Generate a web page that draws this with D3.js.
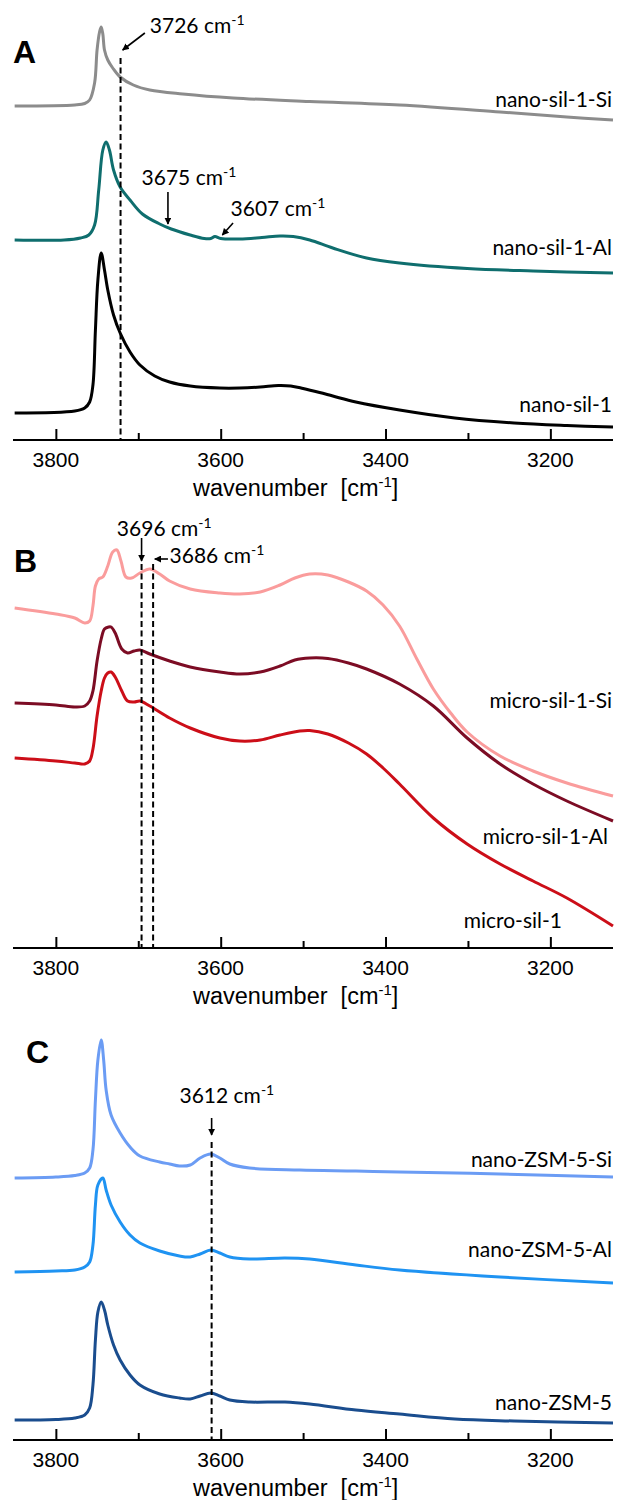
<!DOCTYPE html>
<html>
<head>
<meta charset="utf-8">
<script src="https://cdn.jsdelivr.net/npm/d3@7/dist/d3.min.js"></script>
<style>
  body { margin: 0; background: #fff; }
  svg { display: block; }
  .tick-label { font-family: "Liberation Sans", Arial, sans-serif; font-size: 21px; fill: #000; }
  .axis-title { font-family: "Liberation Sans", Arial, sans-serif; font-size: 23.5px; fill: #000; }
  .series-label, .note { font-family: Lato, "Open Sans", sans-serif; font-size: 21px; fill: #000; }
  .panel-letter { font-family: "Liberation Sans", Arial, sans-serif; font-weight: bold; font-size: 32px; }
</style>
</head>
<body>
<svg id="chart"></svg>
<script>
// wavenumber axis
const majorTicks = [3800, 3600, 3400, 3200];
const minorTicks = [3700, 3500, 3300];

// spectra: [wavenumber (cm-1), absorbance (a.u., offset)]
const nanoSil1Si = [[3850,33.4],[3777,33.5],[3765,33.65],[3759,34.0],[3753,35.7],[3750,39.0],[3747,40.8],[3745,41.3],[3743,40.6],[3741,39.0],[3737,38.0],[3731,37.2],[3722,36.3],[3706,35.5],[3686,35.0],[3646,34.6],[3585,34.2],[3492,33.85],[3383,33.5],[3261,32.8],[3180,32.3],[3124,32.0]];
const nanoSil1Al = [[3850,20.0],[3790,20.0],[3770,20.2],[3760,20.5],[3753,21.5],[3748,25.0],[3743,29.0],[3739,29.8],[3735,29.0],[3730,27.0],[3722,25.3],[3710,24.0],[3695,22.6],[3674,21.6],[3660,21.1],[3637,20.5],[3620,20.15],[3612,20.15],[3607,20.35],[3600,20.15],[3577,20.1],[3550,20.25],[3528,20.4],[3512,20.35],[3492,20.0],[3464,19.2],[3423,18.2],[3383,17.7],[3301,17.15],[3221,16.9],[3124,16.7]];
const nanoSil1 = [[3850,2.7],[3777,2.9],[3765,3.2],[3759,3.8],[3755,5.5],[3752,11.0],[3749,16.0],[3745,18.7],[3741,17.0],[3737,15.0],[3730,12.5],[3722,10.7],[3710,8.8],[3698,7.5],[3680,6.4],[3662,5.8],[3637,5.4],[3601,5.2],[3577,5.2],[3552,5.3],[3530,5.45],[3515,5.4],[3500,5.15],[3480,4.75],[3464,4.4],[3436,3.8],[3383,3.0],[3316,2.2],[3244,1.7],[3180,1.45],[3124,1.3]];

const microSil1Si = [[3850,34.0],[3800,33.4],[3777,33.0],[3765,32.5],[3759,32.7],[3755,34.2],[3752,36.2],[3748,36.9],[3743,37.1],[3737,38.2],[3731,39.6],[3726,39.8],[3721,38.7],[3715,37.1],[3708,37.0],[3698,37.5],[3686,37.9],[3674,37.4],[3662,36.7],[3637,35.9],[3601,35.5],[3577,35.4],[3552,35.6],[3528,36.3],[3510,37.0],[3492,37.4],[3470,37.3],[3445,36.6],[3423,35.7],[3403,34.3],[3383,32.2],[3362,28.9],[3342,25.9],[3321,23.5],[3301,21.6],[3261,19.2],[3221,17.7],[3180,16.5],[3124,15.2]];
const microSil1Al = [[3850,24.5],[3800,24.3],[3777,24.1],[3765,24.2],[3759,24.7],[3755,25.7],[3750,28.7],[3745,30.9],[3741,31.9],[3736,32.1],[3733,32.1],[3728,31.5],[3720,29.9],[3713,29.5],[3705,29.7],[3698,29.8],[3686,29.4],[3662,28.7],[3637,28.1],[3601,27.6],[3577,27.4],[3552,27.6],[3528,28.2],[3510,28.8],[3492,29.0],[3470,28.95],[3445,28.5],[3423,27.9],[3383,26.4],[3342,24.2],[3301,21.0],[3261,18.4],[3221,16.4],[3180,14.7],[3124,12.7]];
const microSil1 = [[3850,19.0],[3800,18.7],[3777,18.5],[3765,18.4],[3759,18.7],[3755,19.9],[3750,23.2],[3745,25.7],[3741,27.0],[3737,27.5],[3733,27.6],[3728,27.1],[3720,25.7],[3713,24.7],[3705,24.6],[3698,24.7],[3686,24.2],[3662,23.0],[3637,22.0],[3601,21.0],[3577,20.7],[3552,20.8],[3528,21.3],[3504,21.7],[3492,21.75],[3470,21.4],[3445,20.5],[3423,19.4],[3403,18.0],[3383,16.4],[3342,13.0],[3301,10.4],[3261,8.4],[3221,6.7],[3180,5.0],[3124,2.2]];

const nanoZsm5Si = [[3850,26.2],[3800,26.3],[3777,26.45],[3765,26.7],[3759,27.2],[3755,29.0],[3752,34.0],[3749,38.0],[3745,40.0],[3742,38.0],[3739,35.0],[3733,32.5],[3722,30.7],[3710,29.3],[3698,28.4],[3674,27.8],[3662,27.6],[3650,27.4],[3637,27.5],[3625,28.2],[3612,28.6],[3601,28.2],[3589,27.6],[3565,27.2],[3504,27.0],[3436,26.9],[3383,26.8],[3261,26.6],[3124,26.3]];
const nanoZsm5Al = [[3850,16.8],[3800,16.9],[3777,17.0],[3765,17.3],[3759,17.8],[3755,19.5],[3752,23.5],[3749,25.5],[3743,26.2],[3739,25.0],[3733,23.5],[3722,21.8],[3710,20.5],[3698,19.7],[3674,18.9],[3650,18.4],[3637,18.3],[3625,18.6],[3612,19.0],[3601,18.7],[3589,18.3],[3565,18.1],[3522,18.2],[3492,18.1],[3436,17.5],[3383,17.0],[3261,16.3],[3124,15.7]];
const nanoZsm5 = [[3850,2.0],[3800,2.05],[3777,2.2],[3765,2.5],[3759,3.2],[3755,5.5],[3752,10.0],[3749,12.8],[3745,13.8],[3741,13.0],[3737,11.5],[3730,9.5],[3722,8.0],[3710,6.5],[3698,5.5],[3674,4.6],[3650,4.2],[3637,4.1],[3625,4.4],[3612,4.7],[3601,4.4],[3589,4.0],[3565,3.8],[3522,3.8],[3492,3.6],[3436,3.0],[3383,2.6],[3316,2.1],[3244,1.9],[3124,1.7]];

// series names and label levels
const namesA = ["nano-sil-1-Si", "nano-sil-1-Al", "nano-sil-1"];
const namesB = ["micro-sil-1-Si", "micro-sil-1-Al", "micro-sil-1"];
const namesC = ["nano-ZSM-5-Si", "nano-ZSM-5-Al", "nano-ZSM-5"];
const labelLevelsA = [33.3, 18.5, 2.8];
const labelLevelsB = [24.0, 10.4, 2.0];
const labelLevelsC = [27.3, 18.3, 3.0];

// marked bands: dashed line at wn, text and arrow
const bandsA = [3721.5];
const bandsB = [3696, 3682];
const bandsC = [3611];
const notesA = [
  { text: "3726", tx: 3686, ty: 40.7, from: [3692, 40.7], to: [3719, 39.0] },
  { text: "3675", tx: 3696, ty: 25.5, from: [3664, 24.8], to: [3664, 21.6] },
  { text: "3607", tx: 3588, ty: 22.4, from: [3585, 21.7], to: [3598, 20.5] }
];
const notesB = [
  { text: "3696", tx: 3726, ty: 41.2, from: [3696, 41.0], to: [3696, 38.7] },
  { text: "3686", tx: 3662, ty: 38.5, from: [3664, 38.9], to: [3680, 38.9] }
];
const notesC = [
  { text: "3612", tx: 3650, ty: 33.7, from: [3611, 32.2], to: [3611, 30.5] }
];
const bandTopA = 38.2, bandTopB = 38.4, bandTopC = 29.8;

const width = 620, height = 1500;
const svg = d3.select("#chart").attr("width", width).attr("height", height);

svg.append("defs").append("marker")
  .attr("id", "head")
  .attr("viewBox", "0 0 10 10")
  .attr("refX", 9).attr("refY", 5)
  .attr("markerWidth", 7).attr("markerHeight", 7)
  .attr("markerUnits", "userSpaceOnUse")
  .attr("orient", "auto")
  .append("path").attr("d", "M0,0 L10,5 L0,10 z").attr("fill", "#000");

const x = d3.scaleLinear().domain([3852, 3124]).range([13, 613]);

const panels = [
  { letter: "A", lx: 13, ly: 63, axisY: 440, series: [nanoSil1Si, nanoSil1Al, nanoSil1], names: namesA,
    levels: labelLevelsA, colors: ["#8c8c8c", "#0f6e6e", "#000000"], bands: bandsA, bandTop: bandTopA, notes: notesA },
  { letter: "B", lx: 14, ly: 572, axisY: 948, series: [microSil1Si, microSil1Al, microSil1], names: namesB,
    levels: labelLevelsB, colors: ["#fa9c9c", "#7c0c24", "#cc0e18"], bands: bandsB, bandTop: bandTopB, notes: notesB },
  { letter: "C", lx: 26, ly: 1063, axisY: 1440, series: [nanoZsm5Si, nanoZsm5Al, nanoZsm5], names: namesC,
    levels: labelLevelsC, colors: ["#6b9cf4", "#1f93f2", "#1a4d8e"], bands: bandsC, bandTop: bandTopC, notes: notesC }
];

const labelRight = { "micro-sil-1-Al": 608, "micro-sil-1": 562 };

panels.forEach(p => {
  const g = svg.append("g");
  const y = d3.scaleLinear().domain([0, 42]).range([p.axisY, p.axisY - 420]);

  const line = d3.line()
    .x(d => x(d[0]))
    .y(d => y(d[1]))
    .curve(d3.curveCatmullRom.alpha(0.5));

  // spectra
  p.series.forEach((s, i) => {
    g.append("path")
      .datum(s)
      .attr("d", line)
      .attr("fill", "none")
      .attr("stroke", p.colors[i])
      .attr("stroke-width", 3)
      .attr("stroke-linejoin", "round");

    g.append("text")
      .attr("class", "series-label")
      .attr("x", labelRight[p.names[i]] || 612)
      .attr("y", y(p.levels[i]))
      .attr("text-anchor", "end")
      .text(p.names[i]);
  });

  // dashed band markers
  p.bands.forEach(b => {
    g.append("line")
      .attr("x1", x(b)).attr("x2", x(b))
      .attr("y1", y(p.bandTop)).attr("y2", y(0))
      .attr("stroke", "#000")
      .attr("stroke-width", 2)
      .attr("stroke-dasharray", "6,3.5");
  });

  // annotations
  p.notes.forEach(n => {
    const t = g.append("text")
      .attr("class", "note")
      .attr("x", x(n.tx))
      .attr("y", y(n.ty));
    t.append("tspan").text(n.text + " cm");
    t.append("tspan").attr("dy", -8).attr("font-size", 14).text("-1");

    g.append("line")
      .attr("x1", x(n.from[0])).attr("y1", y(n.from[1]))
      .attr("x2", x(n.to[0])).attr("y2", y(n.to[1]))
      .attr("stroke", "#000")
      .attr("stroke-width", 1.6)
      .attr("marker-end", "url(#head)");
  });

  // x axis
  const axisG = g.append("g").attr("transform", `translate(0,${p.axisY})`);
  axisG.call(d3.axisTop(x).tickValues(majorTicks).tickSize(11).tickFormat(""));
  axisG.append("g").call(d3.axisTop(x).tickValues(minorTicks).tickSize(7).tickFormat(""));
  axisG.selectAll(".domain").remove();
  axisG.selectAll("line").attr("stroke", "#000").attr("stroke-width", 2);
  axisG.append("line")
    .attr("x1", 13).attr("x2", 613)
    .attr("stroke", "#000").attr("stroke-width", 2.2);

  axisG.selectAll(".tick-text")
    .data(majorTicks)
    .enter().append("text")
    .attr("class", "tick-label")
    .attr("x", d => x(d))
    .attr("y", 27)
    .attr("text-anchor", "middle")
    .text(d => d);

  const title = axisG.append("text")
    .attr("class", "axis-title")
    .attr("x", 193)
    .attr("y", 56)
    .attr("text-anchor", "start")
    .attr("xml:space", "preserve");
  title.append("tspan").text("wavenumber  [cm");
  title.append("tspan").attr("dy", -9).attr("font-size", 15).text("-1");
  title.append("tspan").attr("dy", 9).text("]");

  g.append("text")
    .attr("class", "panel-letter")
    .attr("x", p.lx)
    .attr("y", p.ly)
    .attr("fill", "#000")
    .text(p.letter);
});
</script>
</body>
</html>
